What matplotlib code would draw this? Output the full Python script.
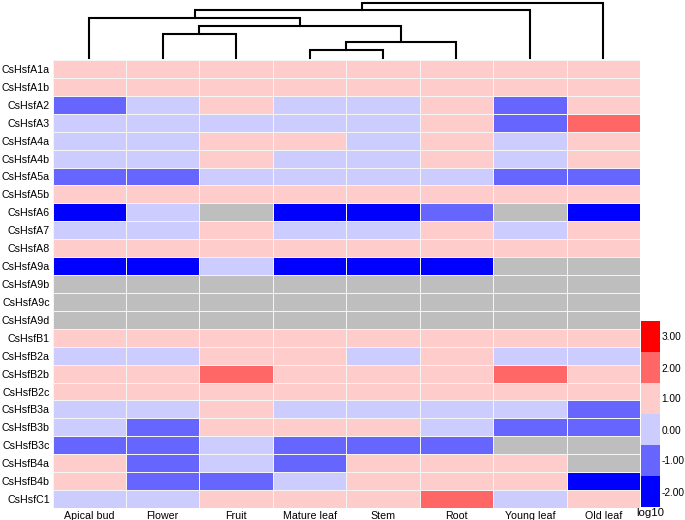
import numpy as np
import matplotlib
matplotlib.use("Agg")
import matplotlib.pyplot as plt
from matplotlib.colors import ListedColormap, BoundaryNorm

plt.rcParams['font.family'] = ['Liberation Sans', 'DejaVu Sans']

tissues = ["Apical bud", "Flower", "Fruit", "Mature leaf", "Stem", "Root", "Young leaf", "Old leaf"]
genes = ["CsHsfA1a", "CsHsfA1b", "CsHsfA2", "CsHsfA3", "CsHsfA4a", "CsHsfA4b", "CsHsfA5a",
         "CsHsfA5b", "CsHsfA6", "CsHsfA7", "CsHsfA8", "CsHsfA9a", "CsHsfA9b", "CsHsfA9c",
         "CsHsfA9d", "CsHsfB1", "CsHsfB2a", "CsHsfB2b", "CsHsfB2c", "CsHsfB3a", "CsHsfB3b",
         "CsHsfB3c", "CsHsfB4a", "CsHsfB4b", "CsHsfC1"]

N = np.nan
# log10 level of each cell (bin value), NaN = no data (grey)
values = [
    [1, 1, 1, 1, 1, 1, 1, 1],      # A1a
    [1, 1, 1, 1, 1, 1, 1, 1],      # A1b
    [-1, 0, 1, 0, 0, 1, -1, 1],    # A2
    [0, 0, 0, 0, 0, 1, -1, 2],     # A3
    [0, 0, 1, 1, 0, 1, 0, 1],      # A4a
    [0, 0, 1, 0, 0, 1, 0, 1],      # A4b
    [-1, -1, 0, 0, 0, 0, -1, -1],  # A5a
    [1, 1, 1, 1, 1, 1, 1, 1],      # A5b
    [-2, 0, N, -2, -2, -1, N, -2], # A6
    [0, 0, 1, 0, 0, 1, 0, 1],      # A7
    [1, 1, 1, 1, 1, 1, 1, 1],      # A8
    [-2, -2, 0, -2, -2, -2, N, N], # A9a
    [N, N, N, N, N, N, N, N],      # A9b
    [N, N, N, N, N, N, N, N],      # A9c
    [N, N, N, N, N, N, N, N],      # A9d
    [1, 1, 1, 1, 1, 1, 1, 1],      # B1
    [0, 0, 1, 1, 0, 1, 0, 0],      # B2a
    [1, 1, 2, 1, 1, 1, 2, 1],      # B2b
    [1, 1, 1, 1, 1, 1, 1, 1],      # B2c
    [0, 0, 1, 0, 0, 0, 0, -1],     # B3a
    [0, -1, 1, 1, 1, 0, -1, -1],   # B3b
    [-1, -1, 0, -1, -1, -1, N, N], # B3c
    [1, -1, 0, -1, 1, 1, 1, N],    # B4a
    [1, -1, -1, 0, 1, 1, 1, -2],   # B4b
    [0, 0, 1, 1, 1, 2, 0, 1],      # C1
]

# column dendrogram merges: (left cluster, right cluster, height)
merges = [(3, 4, 8), (8, 5, 16), (1, 2, 24), (10, 9, 32),
          (0, 11, 40.3), (12, 6, 48), (13, 7, 55.3)]

cb_levels = [-2, -1, 0, 1, 2, 3]
cb_labels = ["-2.00", "-1.00", "0.00", "1.00", "2.00", "3.00"]
cb_colors = ["#0000FF", "#6666FF", "#CCCCFF", "#FFCCCC", "#FF6666", "#FF0000"]

data = np.ma.masked_invalid(np.array(values, dtype=float))
nrow, ncol = data.shape

W, H = 685, 520
fig = plt.figure(figsize=(W / 100, H / 100), dpi=100)

def ax_px(x0, y0, x1, y1):
    return fig.add_axes([x0 / W, 1 - y1 / H, (x1 - x0) / W, (y1 - y0) / H])

cmap = ListedColormap(cb_colors)
cmap.set_bad("#BEBEBE")
bounds = np.array(cb_levels + [cb_levels[-1] + 1]) - 0.5
norm = BoundaryNorm(bounds, cmap.N)

# heatmap
ax = ax_px(52.5, 60, 640, 508)
ax.pcolormesh(np.arange(ncol + 1), np.arange(nrow + 1), data, cmap=cmap, norm=norm,
              edgecolors="#F4F4F4", linewidth=0.45)
ax.set_xlim(0, ncol)
ax.set_ylim(nrow, 0)
ax.set_xticks(np.arange(ncol) + 0.5)
ax.set_xticklabels(tissues, fontsize=7.7)
ax.set_yticks(np.arange(nrow) + 0.5)
ax.set_yticklabels(genes, fontsize=7.7)
ax.tick_params(length=0, pad=2)
for s in ax.spines.values():
    s.set_visible(False)

# dendrogram
dax = ax_px(52.5, 2, 640, 58)
dax.set_xlim(0, ncol)
dax.set_ylim(0, 56)
dax.axis("off")
pos = {i: (i + 0.5, 0.0) for i in range(ncol)}
nid = ncol
for a, b, h in merges:
    xa, ha = pos[a]
    xb, hb = pos[b]
    dax.plot([xa, xa, xb, xb], [ha, h, h, hb], color="black", lw=1.5,
             solid_joinstyle="miter", clip_on=False)
    pos[nid] = ((xa + xb) / 2, h)
    nid += 1

# colorbar
cax = ax_px(641, 321, 660, 507)
cvals = np.array(cb_levels, dtype=float).reshape(-1, 1)
cax.pcolormesh([0, 1], np.arange(len(cb_levels) + 1), cvals, cmap=cmap, norm=norm)
cax.set_xlim(0, 1)
cax.set_ylim(0, len(cb_levels))
cax.set_xticks([])
cax.yaxis.tick_right()
cax.set_yticks(np.arange(len(cb_levels)) + 0.5)
cax.set_yticklabels(cb_labels, fontsize=7.3)
cax.tick_params(length=0, pad=1)
for s in cax.spines.values():
    s.set_visible(False)
cax.set_xlabel("log10", fontsize=8.2, labelpad=1)

fig.savefig("out.png", dpi=100)
